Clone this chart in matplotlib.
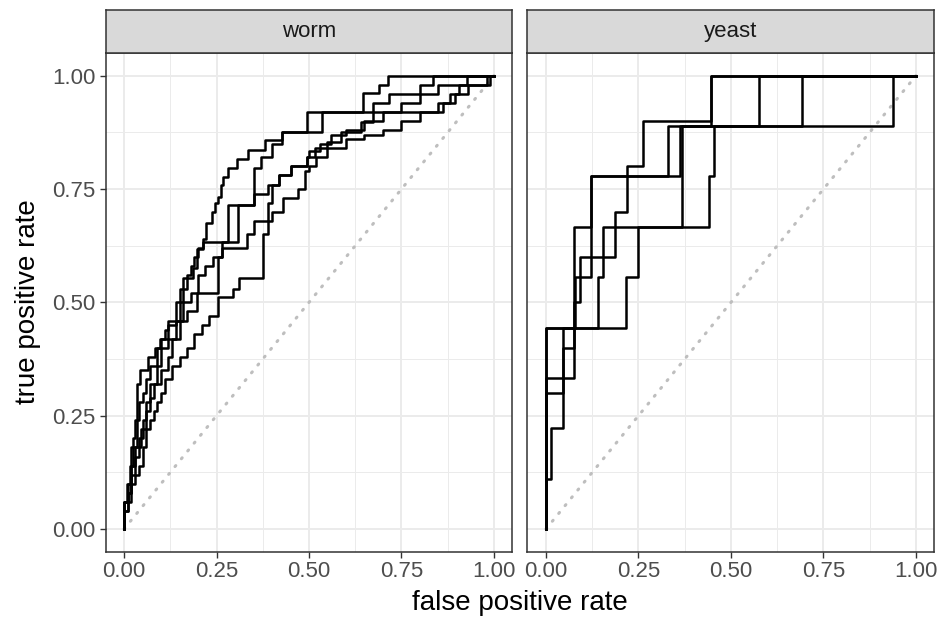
import matplotlib.pyplot as plt

plt.rcParams['font.family'] = ['Liberation Sans', 'DejaVu Sans']

# ROC step curves: (fpr, tpr) at the right end of each flat step
worm_a_fpr = [0, 0.012, 0.020, 0.034, 0.043, 0.065, 0.085, 0.097, 0.110, 0.120, 0.151, 0.160, 0.187, 0.196, 0.214, 0.222,
              0.237, 0.245, 0.255, 0.262, 0.268, 0.280, 0.305, 0.335, 0.380, 0.427, 0.495, 0.646, 0.690, 0.714, 1.000]
worm_a_tpr = [0, 0.060, 0.080, 0.180, 0.320, 0.350, 0.380, 0.400, 0.420, 0.440, 0.460, 0.500, 0.553, 0.575, 0.617, 0.640,
              0.675, 0.700, 0.720, 0.733, 0.759, 0.776, 0.796, 0.816, 0.836, 0.858, 0.876, 0.919, 0.961, 0.980, 1.000]

worm_b_fpr = [0, 0.008, 0.015, 0.025, 0.030, 0.040, 0.050, 0.060, 0.070, 0.090, 0.100, 0.120, 0.140, 0.150, 0.170, 0.180,
              0.190, 0.200, 0.214, 0.308, 0.350, 0.370, 0.400, 0.427, 0.534, 0.673, 0.716, 0.800, 0.835, 1.000]
worm_b_tpr = [0, 0.060, 0.100, 0.140, 0.200, 0.240, 0.280, 0.300, 0.330, 0.360, 0.400, 0.420, 0.450, 0.500, 0.530, 0.560,
              0.580, 0.600, 0.620, 0.634, 0.715, 0.797, 0.820, 0.850, 0.876, 0.919, 0.940, 0.960, 0.980, 1.000]

worm_c_fpr = [0, 0.010, 0.020, 0.030, 0.040, 0.050, 0.060, 0.070, 0.090, 0.100, 0.120, 0.140, 0.160, 0.180, 0.200, 0.220,
              0.240, 0.265, 0.332, 0.350, 0.390, 0.400, 0.420, 0.450, 0.494, 0.516, 0.550, 0.587, 0.640, 0.673, 0.862,
              0.895, 0.905, 0.926, 1.000]
worm_c_tpr = [0, 0.040, 0.080, 0.120, 0.160, 0.200, 0.240, 0.280, 0.320, 0.360, 0.400, 0.420, 0.460, 0.500, 0.520, 0.560,
              0.580, 0.600, 0.620, 0.650, 0.680, 0.720, 0.760, 0.780, 0.800, 0.820, 0.840, 0.853, 0.876, 0.898, 0.919,
              0.940, 0.960, 0.980, 1.000]

worm_d_fpr = [0, 0.010, 0.020, 0.030, 0.045, 0.060, 0.070, 0.080, 0.100, 0.120, 0.130, 0.150, 0.170, 0.197, 0.254, 0.264,
              0.280, 0.350, 0.390, 0.420, 0.450, 0.494, 0.500, 0.530, 0.560, 0.600, 0.650, 0.700, 0.750, 0.800, 0.850,
              0.980, 1.000]
worm_d_tpr = [0, 0.060, 0.100, 0.140, 0.180, 0.220, 0.260, 0.290, 0.320, 0.350, 0.380, 0.420, 0.460, 0.480, 0.520, 0.600,
              0.634, 0.715, 0.740, 0.760, 0.780, 0.800, 0.820, 0.835, 0.850, 0.870, 0.880, 0.900, 0.920, 0.940, 0.960,
              0.980, 1.000]

worm_e_fpr = [0, 0.010, 0.020, 0.030, 0.040, 0.050, 0.060, 0.070, 0.080, 0.090, 0.100, 0.110, 0.130, 0.150, 0.170, 0.190,
              0.210, 0.230, 0.254, 0.295, 0.310, 0.375, 0.390, 0.400, 0.430, 0.470, 0.490, 0.500, 0.520, 0.550, 0.600,
              0.650, 0.700, 0.750, 0.800, 0.850, 0.880, 0.930, 0.990, 1.000]
worm_e_tpr = [0, 0.040, 0.060, 0.100, 0.120, 0.140, 0.180, 0.220, 0.240, 0.260, 0.280, 0.300, 0.330, 0.360, 0.380, 0.400,
              0.430, 0.450, 0.470, 0.512, 0.530, 0.553, 0.650, 0.680, 0.700, 0.730, 0.750, 0.790, 0.800, 0.820, 0.840,
              0.860, 0.870, 0.880, 0.900, 0.920, 0.940, 0.960, 0.980, 1.000]

yeast_a_fpr = [0, 0.045, 0.076, 0.092, 0.186, 0.218, 0.262, 0.447, 1.000]
yeast_a_tpr = [0, 0.300, 0.400, 0.500, 0.600, 0.700, 0.800, 0.900, 1.000]

yeast_b_fpr = [0, 0.140, 0.155, 0.369, 0.937, 1.000]
yeast_b_tpr = [0, 0.444, 0.556, 0.667, 0.889, 1.000]

yeast_c_fpr = [0, 0.216, 0.248, 0.440, 0.455, 0.691, 1.000]
yeast_c_tpr = [0, 0.444, 0.556, 0.667, 0.778, 0.889, 1.000]

yeast_d_fpr = [0, 0.013, 0.046, 0.078, 0.123, 0.329, 0.576, 1.000]
yeast_d_tpr = [0, 0.111, 0.222, 0.444, 0.556, 0.778, 0.889, 1.000]

yeast_e_fpr = [0, 0.076, 0.123, 0.361, 0.447, 1.000]
yeast_e_tpr = [0, 0.333, 0.667, 0.778, 0.889, 1.000]

panels = {
    "worm": [(worm_a_fpr, worm_a_tpr), (worm_b_fpr, worm_b_tpr), (worm_c_fpr, worm_c_tpr),
             (worm_d_fpr, worm_d_tpr), (worm_e_fpr, worm_e_tpr)],
    "yeast": [(yeast_a_fpr, yeast_a_tpr), (yeast_b_fpr, yeast_b_tpr), (yeast_c_fpr, yeast_c_tpr),
              (yeast_d_fpr, yeast_d_tpr), (yeast_e_fpr, yeast_e_tpr)],
}

major = [0, 0.25, 0.5, 0.75, 1.0]
minor = [0.125, 0.375, 0.625, 0.875]
tick_labels = ["0.00", "0.25", "0.50", "0.75", "1.00"]

fig = plt.figure(figsize=(9.48, 6.19), dpi=100)

lefts = [0.1113, 0.5564]
width = 0.4293
bottom, height = 0.1087, 0.8056

for i, (name, curves) in enumerate(panels.items()):
    ax = fig.add_axes([lefts[i], bottom, width, height])
    ax.set_xlim(-0.05, 1.05)
    ax.set_ylim(-0.05, 1.05)
    ax.set_xticks(major)
    ax.set_xticklabels(tick_labels)
    ax.set_yticks(major)
    ax.set_xticks(minor, minor=True)
    ax.set_yticks(minor, minor=True)
    ax.grid(which="major", color="#EBEBEB", lw=1.4)
    ax.grid(which="minor", color="#EBEBEB", lw=0.7)
    ax.set_axisbelow(True)
    for s in ax.spines.values():
        s.set_color("#333333")
        s.set_linewidth(1.1)
    ax.tick_params(which="minor", length=0)
    ax.tick_params(which="major", length=4, width=1, color="#333333",
                   labelsize=16, labelcolor="#4D4D4D", pad=3)
    if i == 0:
        ax.set_yticklabels(tick_labels)
    else:
        ax.tick_params(axis="y", which="both", left=False, labelleft=False)

    ax.plot([0, 1], [0, 1], color="#BEBEBE", lw=2.2, linestyle=(0, (0.4, 2.9)),
            dash_capstyle="round")
    for fpr, tpr in curves:
        ax.plot(fpr, tpr, drawstyle="steps-pre", color="black", lw=1.8)

    # facet strip
    sx = fig.add_axes([lefts[i], 0.9144, width, 0.0695])
    sx.set_facecolor("#D9D9D9")
    sx.set_xticks([])
    sx.set_yticks([])
    for s in sx.spines.values():
        s.set_color("#333333")
        s.set_linewidth(1.1)
    sx.text(0.5, 0.5, name, ha="center", va="center", fontsize=16, color="#1A1A1A",
            transform=sx.transAxes)

fig.text(0.5485, 0.026, "false positive rate", ha="center", va="center", fontsize=20)
fig.text(0.03, 0.512, "true positive rate", ha="center", va="center", rotation=90, fontsize=20)

fig.savefig("out.png", dpi=100)
